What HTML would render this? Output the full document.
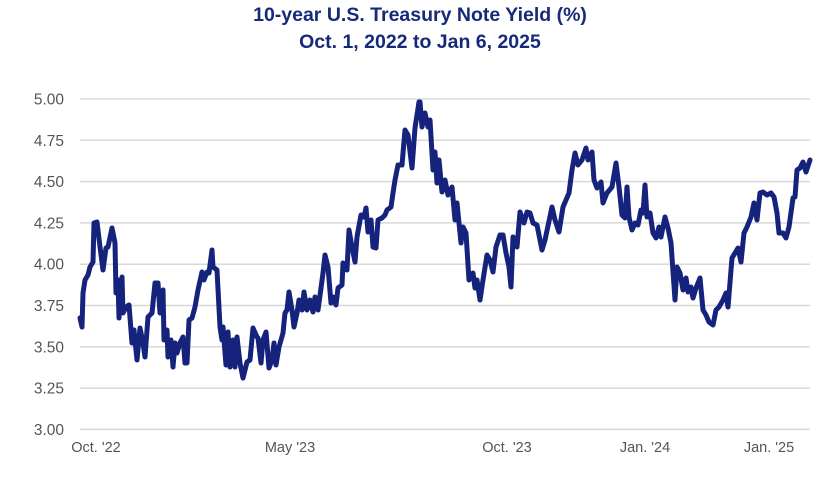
<!DOCTYPE html>
<html><head><style>
body{margin:0;background:#fff;width:840px;height:472px;overflow:hidden;font-family:"Liberation Sans",sans-serif}
</style></head><body>
<svg width="840" height="472" xmlns="http://www.w3.org/2000/svg" font-family="Liberation Sans, sans-serif">
<text x="420" y="21" text-anchor="middle" font-size="19.5" font-weight="bold" fill="#172a7a">10-year U.S. Treasury Note Yield (%)</text>
<text x="420" y="48" text-anchor="middle" font-size="19.5" font-weight="bold" fill="#172a7a">Oct. 1, 2022 to Jan 6, 2025</text>
<g stroke="#d8d8d8" stroke-width="1.5">
<line x1="80" x2="810" y1="99" y2="99"/><line x1="80" x2="810" y1="140.3" y2="140.3"/><line x1="80" x2="810" y1="181.6" y2="181.6"/><line x1="80" x2="810" y1="222.9" y2="222.9"/><line x1="80" x2="810" y1="264.2" y2="264.2"/><line x1="80" x2="810" y1="305.5" y2="305.5"/><line x1="80" x2="810" y1="346.8" y2="346.8"/><line x1="80" x2="810" y1="388.1" y2="388.1"/><line x1="80" x2="810" y1="429.4" y2="429.4"/>
</g>
<g font-size="15.5" fill="#555" text-anchor="end">
<text x="64" y="104.5">5.00</text><text x="64" y="145.8">4.75</text><text x="64" y="187.1">4.50</text><text x="64" y="228.4">4.25</text><text x="64" y="269.7">4.00</text><text x="64" y="311">3.75</text><text x="64" y="352.3">3.50</text><text x="64" y="393.6">3.25</text><text x="64" y="434.9">3.00</text>
</g>
<g font-size="14.5" fill="#555" text-anchor="middle">
<text x="96" y="452">Oct. '22</text><text x="290" y="452">May '23</text><text x="507" y="452">Oct. '23</text><text x="645" y="452">Jan. '24</text><text x="769" y="452">Jan. '25</text>
</g>
<polyline fill="none" stroke="#15237c" stroke-width="5" stroke-linejoin="round" stroke-linecap="round" points="80,318 82,327 83,293 85,280 88,275 90,267 93,262 94,223 97,222 100,247 103,270 106,248 108,247 112,228 115,243 116,293 118,280 119,318 122,277 123,313 126,307 129,305 132,343 134,330 137,360 140,328 143,343 145,357 148,317 152,313 155,283 158,283 160,313 163,290 164,340 167,330 168,357 171,340 173,367 175,343 177,353 180,343 183,337 185,363 187,363 189,320 192,318 195,307 198,290 202,272 204,280 207,272 209,273 212,250 213,267 217,270 220,327 222,340 223,327 226,365 228,332 230,367 233,340 235,367 237,337 240,363 243,378 247,362 250,360 253,328 257,337 258,338 261,363 263,340 266,332 269,368 272,360 274,343 276,365 279,347 283,333 285,313 287,310 289,292 292,310 294,327 297,313 299,300 302,310 304,292 307,310 310,300 313,312 315,297 318,310 321,288 323,273 325,255 328,267 331,303 333,297 336,305 338,288 342,285 343,263 347,270 349,230 352,247 355,262 357,237 361,215 364,217 366,208 368,232 371,220 373,247 376,248 378,220 382,218 385,215 387,210 391,207 393,193 395,180 398,165 402,165 405,130 408,135 412,168 415,128 419,102 420,102 422,127 425,113 428,127 430,120 433,170 435,152 437,183 439,160 442,192 445,180 448,195 452,187 455,220 457,203 461,243 463,227 466,233 469,280 473,273 475,288 477,280 480,300 483,280 487,255 490,260 493,272 496,247 500,235 503,235 506,253 509,267 511,287 513,237 517,247 520,212 524,223 527,212 530,213 533,223 537,225 542,250 545,240 552,207 555,220 559,232 563,207 566,200 569,193 572,170 575,153 578,165 582,160 586,148 588,160 592,152 594,180 597,188 601,182 603,203 607,193 612,187 616,163 619,187 622,215 625,218 627,187 629,217 632,230 635,223 638,225 641,210 643,213 645,185 647,217 650,213 653,233 656,238 659,227 661,237 665,217 668,228 671,243 675,300 677,267 680,273 683,290 686,278 688,292 691,287 693,298 696,288 700,278 703,310 706,315 709,322 713,325 716,310 719,307 723,300 726,293 728,307 732,258 735,253 738,248 741,262 744,233 747,227 751,217 754,203 757,220 760,193 763,192 767,195 771,193 774,197 777,213 779,233 783,233 786,238 789,227 793,198 795,197 797,170 800,168 803,162 806,172 810,160"/>
</svg>
</body></html>
